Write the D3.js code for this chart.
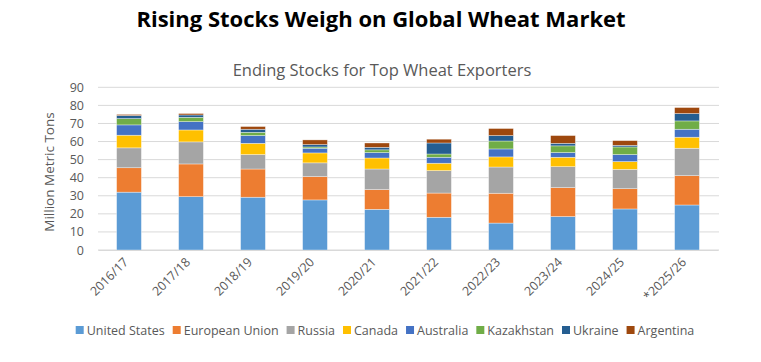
<!DOCTYPE html>
<html>
<head>
<meta charset="utf-8">
<script src="https://cdn.jsdelivr.net/npm/d3@7"></script>
<style>
  body { margin: 0; background: #fff; }
  svg { display: block; }
</style>
</head>
<body>
<svg id="chart" width="761" height="362"></svg>
<script>
const years = ["2016/17","2017/18","2018/19","2019/20","2020/21","2021/22","2022/23","2023/24","2024/25","*2025/26"];
const seriesNames = ["United States","European Union","Russia","Canada","Australia","Kazakhstan","Ukraine","Argentina"];
const unitedStates  = [32.0, 29.5, 29.2, 27.7, 22.5, 18.1, 14.9, 18.5, 22.7, 24.9];
const europeanUnion = [13.5, 18.1, 15.6, 12.9, 10.9, 13.4, 16.5, 16.0, 11.2, 16.2];
const russia        = [11.0, 12.2,  8.0,  7.6, 11.4, 12.4, 14.5, 11.6, 10.7, 15.2];
const canada        = [ 7.0,  6.6,  6.2,  5.5,  6.1,  4.1,  5.6,  5.2,  4.3,  6.1];
const australia     = [ 5.7,  4.6,  4.3,  2.6,  3.0,  3.3,  4.4,  2.6,  3.9,  4.4];
const kazakhstan    = [ 3.5,  2.4,  1.8,  0.7,  1.5,  1.8,  4.4,  3.7,  4.2,  4.6];
const ukraine       = [ 1.7,  1.3,  1.7,  1.3,  1.4,  6.1,  3.0,  1.4,  0.9,  4.1];
const argentina     = [ 0.6,  0.8,  1.5,  2.6,  2.4,  2.1,  3.9,  4.3,  2.6,  3.3];
const yTicks = [0,10,20,30,40,50,60,70,80,90];
const colors = ["#5B9BD5","#ED7D31","#A5A5A5","#FFC000","#4472C4","#70AD47","#255E91","#9E480E"];

const seriesValues = [unitedStates, europeanUnion, russia, canada, australia, kazakhstan, ukraine, argentina];
const table = years.map((y, i) => {
  const row = { year: y };
  seriesNames.forEach((s, k) => row[s] = seriesValues[k][i]);
  return row;
});

const svg = d3.select("#chart");
const font = "'Open Sans', 'Noto Sans', sans-serif";
const margin = { left: 98, right: 43, top: 87, bottom: 112 };
const W = 761, H = 362;

const x = d3.scaleBand().domain(years).range([margin.left, W - margin.right]).paddingInner(0.6).paddingOuter(0.3);
const y = d3.scaleLinear().domain([0, 90]).range([250, 87.3]);

// gridlines
svg.append("g").selectAll("line").data(yTicks).join("line")
  .attr("x1", 98).attr("x2", 719)
  .attr("y1", d => y(d)).attr("y2", d => y(d))
  .attr("stroke", "#d9d9d9").attr("stroke-width", 1);

// y axis
const yAxis = svg.append("g").attr("transform", "translate(90,0)")
  .call(d3.axisLeft(y).tickValues(yTicks).tickSize(0).tickPadding(6));
yAxis.select(".domain").remove();
yAxis.selectAll("text").attr("font-family", font).attr("font-size", 12.5).attr("fill", "#595959");

// stacked bars
const stack = d3.stack().keys(seriesNames)(table);
svg.append("g").selectAll("g").data(stack).join("g")
  .attr("fill", (d, i) => colors[i])
  .selectAll("rect").data(d => d).join("rect")
  .attr("x", d => x(d.data.year))
  .attr("width", x.bandwidth())
  .attr("y", d => y(d[1]))
  .attr("height", d => y(d[0]) - y(d[1]))
  .attr("stroke", "#ffffff").attr("stroke-opacity", 0.6).attr("stroke-width", 0.6);

// x axis labels
const xAxis = svg.append("g").attr("transform", "translate(0,250)")
  .call(d3.axisBottom(x).tickSize(0).tickPadding(0));
xAxis.select(".domain").attr("stroke", "#d9d9d9");
xAxis.selectAll("text")
  .attr("font-family", font).attr("font-size", 12.5).attr("fill", "#595959")
  .attr("text-anchor", "end")
  .attr("dy", null)
  .attr("transform", "translate(0,13) rotate(-45)")
  .attr("x", 0).attr("y", 0);

// y title
svg.append("text")
  .attr("transform", "translate(54,172) rotate(-90)")
  .attr("text-anchor", "middle")
  .attr("font-family", font).attr("font-size", 13.5).attr("fill", "#595959")
  .text("Million Metric Tons");

// title
svg.append("text").attr("x", 381).attr("y", 27).attr("text-anchor", "middle")
  .attr("font-family", font).attr("font-weight", "bold").attr("font-size", 22).attr("fill", "#000")
  .text("Rising Stocks Weigh on Global Wheat Market");

// subtitle
svg.append("text").attr("x", 382).attr("y", 76).attr("text-anchor", "middle")
  .attr("font-family", font).attr("font-size", 16.5).attr("fill", "#595959")
  .text("Ending Stocks for Top Wheat Exporters");

// legend
const legend = svg.append("g");
let lx = 72;
seriesNames.forEach((s, i) => {
  const g = legend.append("g").attr("transform", `translate(${lx},0)`);
  g.append("rect").attr("x", 0).attr("y", 326).attr("width", 8).attr("height", 8).attr("fill", colors[i]);
  const t = g.append("text").attr("x", 11).attr("y", 335)
    .attr("font-family", font).attr("font-size", 12.5).attr("fill", "#595959").text(s);
  lx += 11 + t.node().getComputedTextLength() + 8;
});
const lb = legend.node().getBBox();
legend.attr("transform", `translate(${385 - (lb.x + lb.width / 2)},0)`);
</script>
</body>
</html>
